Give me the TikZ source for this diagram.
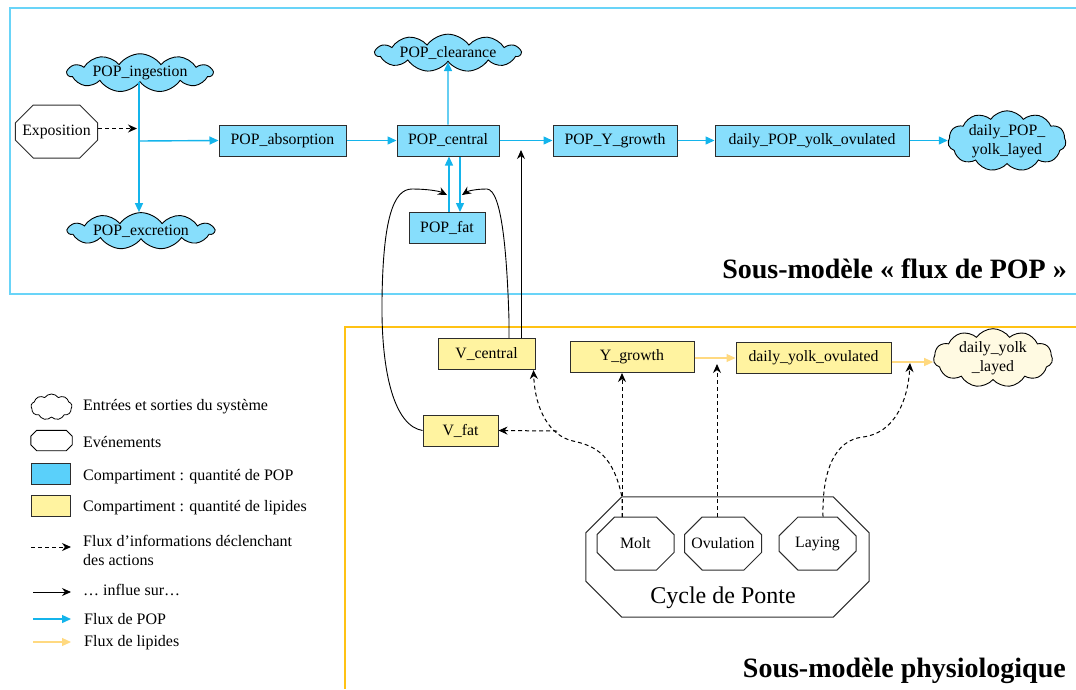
\documentclass[tikz,border=0pt]{standalone}
\usepackage{fontspec}
\setmainfont{Liberation Serif}
\usetikzlibrary{shapes.symbols,shapes.misc,arrows.meta}
\definecolor{popfill}{RGB}{135,222,252}
\definecolor{popleg}{RGB}{90,208,250}
\definecolor{lipfill}{RGB}{255,243,160}
\definecolor{lipcloud}{RGB}{255,250,226}
\definecolor{popframe}{RGB}{105,212,248}
\definecolor{lipframe}{RGB}{255,194,20}
\definecolor{popflow}{RGB}{20,180,235}
\definecolor{lipflow}{RGB}{255,217,128}
\definecolor{boxline}{RGB}{45,45,45}
\tikzset{
  txt/.style={font=\fontsize{15.8}{18.5}\selectfont},
  bluebox/.style={txt,draw=boxline,fill=popfill,line width=1pt,minimum height=31pt,inner sep=0pt},
  yelbox/.style={txt,draw=boxline,fill=lipfill,line width=1pt,minimum height=31pt,inner sep=0pt},
  cloudy/.style={txt,cloud,cloud puffs=11,cloud puff arc=110,cloud ignores aspect,draw=black,line width=0.9pt,inner sep=0pt,align=center},
  bluecloud/.style={cloudy,fill=popfill},
  yelcloud/.style={cloudy,fill=lipcloud},
  octo/.style={txt,chamfered rectangle,draw=boxline,line width=1pt,fill=white,inner sep=0pt,chamfered rectangle xsep=12pt,chamfered rectangle ysep=12pt,minimum width=77pt,minimum height=53pt},
  popflowline/.style={draw=popflow,line width=1.4pt,-{Triangle[length=9pt,width=8pt]}},
  lipflowline/.style={draw=lipflow,line width=1.2pt,-{Triangle[length=9pt,width=8pt]}},
  infoline/.style={draw=black,line width=1pt,dashed,dash pattern=on 4pt off 3pt,-{Stealth[length=9pt,width=8pt]}},
  inflline/.style={draw=black,line width=0.9pt,-{Stealth[length=9pt,width=8pt]}},
  legtxt/.style={font=\fontsize{16}{19}\selectfont,anchor=west,inner sep=0pt,align=left},
}
\begin{document}
\begin{tikzpicture}[x=1pt,y=-1pt]
\useasboundingbox (0,0) rectangle (1076,689);
% frames
\draw[popframe,line width=2.2pt] (1076,8) -- (10,8) -- (10,294) -- (1076,294);
\draw[lipframe,line width=2.4pt] (1076,327) -- (345,327) -- (345,689);

% top submodel
\node[bluecloud,minimum width=145pt,minimum height=32pt] (ing) at (140,73) {POP\_ingestion};
\node[bluecloud,minimum width=146pt,minimum height=30pt] (exc) at (141,231) {POP\_excretion};
\node[octo,chamfered rectangle xsep=14pt,chamfered rectangle ysep=11pt] (expo) at (56.5,131.5) {Exposition};
\node[bluebox,minimum width=127pt] (abs) at (282.5,140.5) {POP\_absorption};
\node[bluebox,minimum width=102pt] (cen) at (448,140.5) {POP\_central};
\node[bluecloud,minimum width=145pt,minimum height=33pt] (clr) at (448,53) {POP\_clearance};
\node[bluebox,minimum width=124pt] (pyg) at (615,140.5) {POP\_Y\_growth};
\node[bluebox,minimum width=194pt] (dpyo) at (812,140.5) {daily\_POP\_yolk\_ovulated};
\node[bluecloud,minimum width=118pt,minimum height=47pt] (dpyl) at (1007,141) {daily\_POP\_\\yolk\_layed};
\node[bluebox,minimum width=76pt] (fat) at (447,228) {POP\_fat};

\coordinate (jn) at (139,141);
\coordinate (expoend) at (137,128.5);
\draw[popflowline] (ing.south -| jn) -- (exc.north -| jn);
\draw[popflowline] (jn) -- (abs.west);
\draw[infoline] (expo.east |- expoend) -- (expoend);
\draw[popflowline] (abs.east) -- (cen.west);
\draw[popflowline] (cen.north) -- (clr.south);
\draw[popflowline] (cen.east) -- (cen.east -| pyg.west);
\draw[popflowline] (pyg.east) -- (pyg.east -| dpyo.west);
\draw[popflowline] (dpyo.east) -- (dpyo.east -| dpyl.west);
\draw[popflowline] ([xshift=2pt]fat.north) -- ([xshift=2pt]fat.north |- cen.south);
\draw[popflowline] ([xshift=12pt]cen.south) -- ([xshift=12pt]cen.south |- fat.north);

\node[font=\fontsize{28}{31}\selectfont\bfseries,anchor=base east,inner sep=0pt] (t1) at (1067,278) {Sous-modèle «~flux de POP~»};

% bottom submodel
\node[yelbox,minimum width=97pt] (vcen) at (486.5,354) {V\_central};
\node[yelbox,minimum width=124pt] (yg) at (632,357) {Y\_growth};
\node[yelbox,minimum width=75pt] (vfat) at (460.5,430.5) {V\_fat};
\node[yelbox,minimum width=155pt] (dyo) at (813.5,358) {daily\_yolk\_ovulated};
\node[yelcloud,minimum width=119pt,minimum height=46pt] (dyl) at (993,358) {daily\_yolk\\\_layed};

\node[minimum width=283pt,minimum height=120pt,inner sep=0pt] (cyc) at (727.5,557) {};
\draw[boxline,line width=1pt] ([xshift=36pt]cyc.north west) -- ([xshift=-36pt]cyc.north east) -- ([yshift=-36pt]cyc.north east) -- ([yshift=36pt]cyc.south east) -- ([xshift=-36pt]cyc.south east) -- ([xshift=36pt]cyc.south west) -- ([yshift=36pt]cyc.south west) -- ([yshift=-36pt]cyc.north west) -- cycle;
\node[font=\fontsize{24}{28}\selectfont,inner sep=0pt] (cyct) at (723,598) {Cycle de Ponte};
\node[octo] (molt) at (635.5,543.5) {Molt};
\node[octo] (ovu) at (723,543.5) {Ovulation};
\node[octo] (lay) at (817.5,543.5) {Laying};

\draw[lipflowline] (yg.east |- dyo.west) -- (dyo.west);
\draw[lipflowline] ([yshift=-4pt]dyo.east) -- ([yshift=-4pt]dyo.east -| dyl.west);

% influence (solid black)
\coordinate (fatinL) at (447,195);
\coordinate (fatinR) at (462,195);
\draw[inflline] (vfat.west) .. controls (395,426) and (381,375) .. (382,300) .. controls (383,220) and (393,189) .. (412,189) .. controls (427,189) and (439,191) .. (fatinL);
\draw[inflline] ([xshift=22.5pt]vcen.north) -- (509,320) .. controls (507,255) and (502,190) .. (487,189) .. controls (476,189) and (468,191) .. (fatinR);
\coordinate (cenflow) at (521,150);
\draw[inflline] ([xshift=34.5pt]vcen.north) -- (cenflow);

% information (dashed)
\coordinate (moltTop) at (622,517);
\coordinate (moltC) at (622,497);
\coordinate (vfatsrc) at (557,431);
\coordinate (ovuflow) at (717,364);
\coordinate (layflow) at (910,363);
\draw[infoline] (moltTop) -- (moltTop |- yg.south);
\draw[infoline] (moltTop) -- (moltC) .. controls (613,455) and (596,446) .. (573,441) .. controls (550,436) and (535,410) .. ([xshift=-2pt]vcen.south east);
\draw[infoline] (vfatsrc) -- (vfat.east);
\draw[infoline] (ovuflow |- ovu.north) -- (ovuflow);
\draw[infoline] (lay.north -| 823,0) .. controls (822,470) and (835,440) .. (863,437) .. controls (895,433) and (908,400) .. (layflow);

\node[font=\fontsize{28}{32}\selectfont\bfseries,anchor=base east,inner sep=0pt] (t2) at (1066,677) {Sous-modèle physiologique};

% legend
\node[cloudy,fill=white,minimum width=41pt,minimum height=26pt,cloud puffs=9,line width=0.8pt] (lg1) at (51.5,407) {};
\node[legtxt] (lt1) at (83,407) {Entrées et sorties du système};
\node[minimum width=41pt,minimum height=20pt,inner sep=0pt] (lg2) at (51.5,440.5) {};
\draw[black,line width=0.9pt] ([xshift=6pt]lg2.north west) -- ([xshift=-6pt]lg2.north east) -- ([yshift=-6pt]lg2.north east) -- ([yshift=6pt]lg2.south east) -- ([xshift=-6pt]lg2.south east) -- ([xshift=6pt]lg2.south west) -- ([yshift=6pt]lg2.south west) -- ([yshift=-6pt]lg2.north west) -- cycle;
\node[legtxt] (lt2) at (83,442) {Evénements};
\node[draw=boxline,fill=popleg,line width=1pt,minimum width=39pt,minimum height=21pt,inner sep=0pt] (lg3) at (50.5,473.5) {};
\node[legtxt] (lt3) at (83,477) {Compartiment : quantité de POP};
\node[draw=boxline,fill=lipfill,line width=1pt,minimum width=39pt,minimum height=21pt,inner sep=0pt] (lg4) at (50.5,505.5) {};
\node[legtxt] (lt4) at (83,508) {Compartiment : quantité de lipides};
\coordinate (l5a) at (31,547); \coordinate (l5b) at (71,547);
\draw[infoline] (l5a) -- (l5b);
\node[legtxt,font=\fontsize{16}{19}\selectfont] (lt5) at (83,550.5) {Flux d’informations déclenchant\\des actions};
\coordinate (l6a) at (33,592); \coordinate (l6b) at (71,592);
\draw[inflline] (l6a) -- (l6b);
\node[legtxt] (lt6) at (83,590) {… influe sur…};
\coordinate (l7a) at (33,619); \coordinate (l7b) at (71,619);
\draw[popflowline] (l7a) -- (l7b);
\node[legtxt] (lt7) at (84,619) {Flux de POP};
\coordinate (l8a) at (33,642); \coordinate (l8b) at (71,642);
\draw[lipflowline] (l8a) -- (l8b);
\node[legtxt] (lt8) at (84,643) {Flux de lipides};
\end{tikzpicture}
\end{document}
